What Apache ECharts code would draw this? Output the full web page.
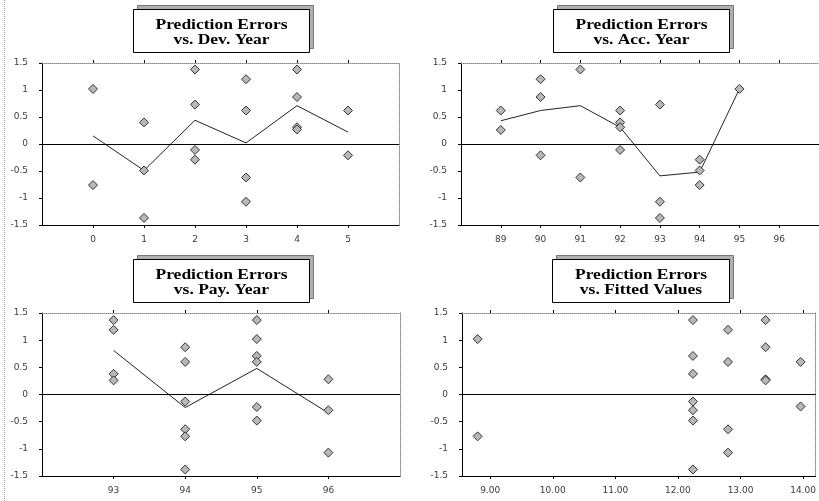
<!DOCTYPE html>
<html>
<head>
<meta charset="utf-8">
<script src="https://cdn.jsdelivr.net/npm/echarts@6/dist/echarts.min.js"></script>
<style>
  html, body { margin: 0; padding: 0; background: #fff; }
  #chart { width: 819px; height: 501px; }
</style>
</head>
<body>
<div id="chart"></div>
<script>
// Residuals of the claims model, plotted against four different drivers.
const devYears = [0, 1, 2, 3, 4, 5];
const devErrors = [
  [1.02, -0.76],
  [0.40, -0.49, -1.37],
  [1.38, 0.73, -0.11, -0.29],
  [1.20, 0.62, -0.62, -1.07],
  [1.38, 0.87, 0.31, 0.27],
  [0.62, -0.21]
];
const devMeans = [0.15, -0.49, 0.44, 0.02, 0.71, 0.22];

const accYears = [89, 90, 91, 92, 93, 94, 95];
const accErrors = [
  [0.62, 0.26],
  [1.20, 0.87, -0.21],
  [1.38, -0.62],
  [0.62, 0.40, 0.31, -0.11],
  [0.73, -1.07, -1.37],
  [-0.29, -0.49, -0.76],
  [1.02]
];
const accMeans = [0.43, 0.62, 0.71, 0.31, -0.59, -0.52, 1.02];

const payYears = [93, 94, 95, 96];
const payErrors = [
  [1.37, 1.19, 0.38, 0.26],
  [0.87, 0.60, -0.13, -0.64, -0.77, -1.38],
  [1.37, 1.02, 0.71, 0.60, -0.23, -0.48],
  [0.28, -0.29, -1.07]
];
const payMeans = [0.81, -0.24, 0.48, -0.34];

const fittedValues = [8.80, 12.24, 12.80, 13.40, 13.96];
const fittedErrors = [
  [1.02, -0.77],
  [1.37, 0.71, 0.38, -0.13, -0.29, -0.48, -1.38],
  [1.19, 0.60, -0.64, -1.07],
  [1.37, 0.87, 0.28, 0.26],
  [0.60, -0.22]
];

const devTicks = [0, 1, 2, 3, 4, 5];
const accTicks = [89, 90, 91, 92, 93, 94, 95, 96];
const payTicks = [93, 94, 95, 96];
const fittedTicks = [9, 10, 11, 12, 13, 14];

const panelTitles = [
  ['Prediction Errors', 'vs. Dev. Year'],
  ['Prediction Errors', 'vs. Acc. Year'],
  ['Prediction Errors', 'vs. Pay. Year'],
  ['Prediction Errors', 'vs. Fitted Values']
];

// ---- layout ----
const panels = [
  { grid: { left: 42, top: 63, width: 357, height: 162 }, xMin: -1, xMax: 6, ticks: devTicks, fmt: v => String(v),
    box: { x: 133, y: 9, w: 176, h: 43 } },
  { grid: { left: 461, top: 63, width: 360, height: 162 }, xMin: 88, xMax: 97, ticks: accTicks, fmt: v => String(v),
    box: { x: 553, y: 9, w: 176, h: 43 } },
  { grid: { left: 42, top: 313, width: 358, height: 163 }, xMin: 92, xMax: 97, ticks: payTicks, fmt: v => String(v),
    box: { x: 133, y: 259, w: 176, h: 43 } },
  { grid: { left: 462, top: 313, width: 356, height: 163 }, xMin: 8.55, xMax: 14.2, ticks: fittedTicks, fmt: v => v.toFixed(2),
    box: { x: 552, y: 259, w: 177, h: 43 } }
];

function toPoints(xs, groups) {
  const pts = [];
  groups.forEach((g, i) => g.forEach(v => pts.push([xs[i], v])));
  return pts;
}
function toLine(xs, ys) {
  return xs.map((x, i) => [x, ys[i]]);
}

const labelFont = { fontFamily: 'DejaVu Sans, sans-serif', fontSize: 9, color: '#3a3a3a' };

const grids = [], xAxes = [], yAxes = [], series = [];
panels.forEach((p, i) => {
  grids.push(Object.assign({ containLabel: false }, p.grid));
  // bottom axis with labels
  xAxes.push({
    type: 'value', gridIndex: i, position: 'bottom', min: p.xMin, max: p.xMax,
    axisLine: { show: true, onZero: false, lineStyle: { color: '#000', width: 1 } },
    axisTick: { show: true, inside: false, length: 3, customValues: p.ticks, lineStyle: { color: '#000' } },
    axisLabel: Object.assign({ show: true, margin: 10, customValues: p.ticks, formatter: p.fmt }, labelFont),
    splitLine: { show: false }
  });
  // top frame with tick marks only
  xAxes.push({
    type: 'value', gridIndex: i, position: 'top', min: p.xMin, max: p.xMax,
    axisLine: { show: true, onZero: false, lineStyle: { color: '#888', width: 1, type: [1, 1] } },
    axisTick: { show: true, inside: false, length: 3, customValues: p.ticks, lineStyle: { color: '#000' } },
    axisLabel: { show: false },
    splitLine: { show: false }
  });
  yAxes.push({
    type: 'value', gridIndex: i, position: 'left', min: -1.5, max: 1.5, interval: 0.5,
    axisLine: { show: true, onZero: false, lineStyle: { color: '#000', width: 1 } },
    axisTick: { show: true, inside: false, length: 3, lineStyle: { color: '#000' } },
    axisLabel: Object.assign({ show: true, margin: 14 }, labelFont),
    splitLine: { show: false }
  });
  yAxes.push({
    type: 'value', gridIndex: i, position: 'right', min: -1.5, max: 1.5, interval: 0.5,
    axisLine: { show: true, onZero: false, lineStyle: { color: '#888', width: 1, type: [1, 1] } },
    axisTick: { show: false }, axisLabel: { show: false }, splitLine: { show: false }
  });
});

const scatterStyle = {
  type: 'scatter', symbol: 'diamond', symbolSize: 9, z: 4,
  itemStyle: { color: '#b8b8b8', borderColor: '#333', borderWidth: 1, opacity: 1 },
  markLine: {
    silent: true, symbol: ['none', 'none'], label: { show: false },
    lineStyle: { color: '#000', width: 1, type: 'solid' },
    data: [{ yAxis: 0 }]
  }
};
const lineStyle = {
  type: 'line', showSymbol: false, symbol: 'none', z: 3,
  lineStyle: { color: '#222', width: 1 }
};

const pointSets = [
  toPoints(devYears, devErrors),
  toPoints(accYears, accErrors),
  toPoints(payYears, payErrors),
  toPoints(fittedValues, fittedErrors)
];
const meanSets = [
  toLine(devYears, devMeans),
  toLine(accYears, accMeans),
  toLine(payYears, payMeans),
  null
];

pointSets.forEach((pts, i) => {
  if (meanSets[i]) {
    series.push(Object.assign({}, lineStyle, { xAxisIndex: i * 2, yAxisIndex: i * 2, data: meanSets[i] }));
  }
  series.push(Object.assign({}, scatterStyle, { xAxisIndex: i * 2, yAxisIndex: i * 2, data: pts }));
});

// ---- title boxes with drop shadow ----
const graphics = [
  { type: 'line', silent: true, shape: { x1: 4.5, y1: 0, x2: 4.5, y2: 501 },
    style: { stroke: '#999', lineWidth: 1, lineDash: [1, 1] } }
];
panels.forEach((p, i) => {
  const b = p.box;
  graphics.push({ type: 'rect', silent: true, shape: { x: b.x + 4.5, y: b.y - 3.5, width: b.w, height: b.h },
    style: { fill: '#b0b0b0', stroke: '#777', lineWidth: 1 }, z: 10 });
  graphics.push({ type: 'rect', silent: true, shape: { x: b.x + 0.5, y: b.y + 0.5, width: b.w, height: b.h },
    style: { fill: '#fff', stroke: '#000', lineWidth: 1 }, z: 11 });
  graphics.push({ type: 'text', silent: true, z: 12,
    x: b.x + b.w / 2 + 0.5, y: b.y + b.h / 2 + 2, scaleX: 1.25,
    style: { x: 0, y: 0,
      text: panelTitles[i].join('\n'), align: 'center', verticalAlign: 'middle',
      font: 'bold 14px "Liberation Serif", "DejaVu Serif", serif', lineHeight: 15, fill: '#000' } });
});

const chart = echarts.init(document.getElementById('chart'), null, { renderer: 'canvas' });
chart.setOption({
  animation: false,
  backgroundColor: '#fff',
  grid: grids,
  xAxis: xAxes,
  yAxis: yAxes,
  series: series,
  graphic: graphics
});
</script>
</body>
</html>
